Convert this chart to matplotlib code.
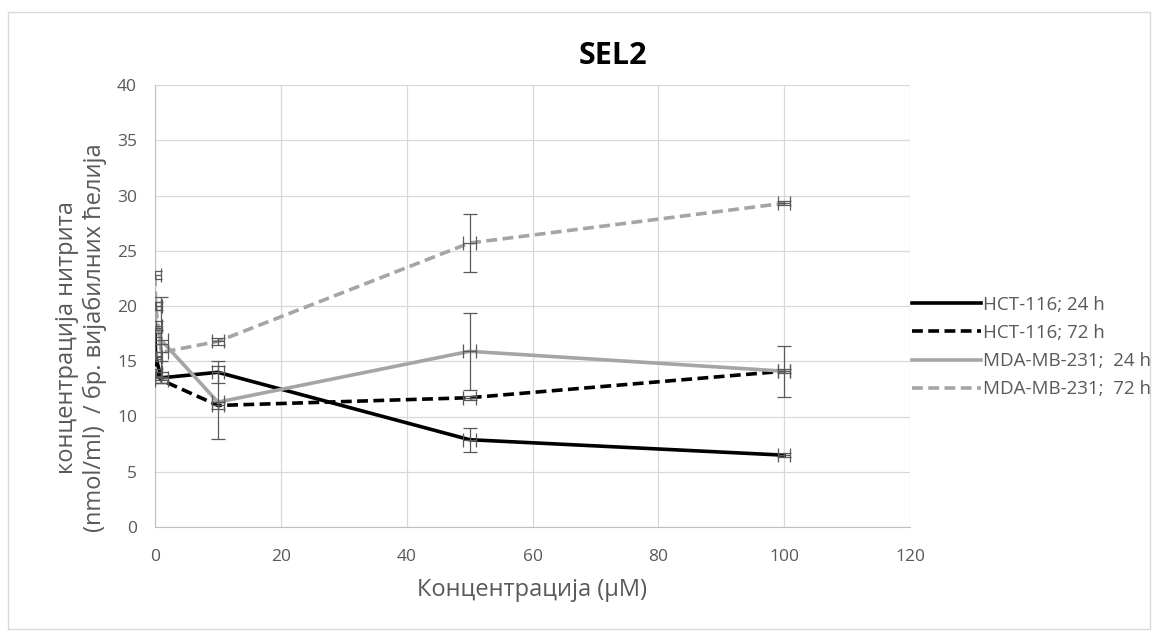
import numpy as np
import matplotlib.pyplot as plt
from matplotlib.patches import Rectangle

plt.rcParams['font.family'] = ['Open Sans', 'DejaVu Sans']

# concentrations (uM)
conc = [0, 0.1, 1, 10, 50, 100]

hct_24 = [17.6, 15.4, 13.5, 14.0, 7.9, 6.5]
hct_24_err = [0.4, 0.4, 0.5, 1.0, 1.1, 0.2]
hct_72 = [15.5, 14.0, 13.3, 11.0, 11.7, 14.1]
hct_72_err = [0.3, 0.3, 0.3, 0.3, 0.2, 0.2]
mda_24 = [20.0, 18.2, 16.9, 11.3, 15.9, 14.1]
mda_24_err = [0.4, 0.4, 3.9, 3.3, 3.5, 2.3]
mda_72 = [22.8, 20.0, 15.8, 16.8, 25.7, 29.3]
mda_72_err = [0.4, 0.4, 0.8, 0.3, 2.6, 0.2]
x_err = 1.0

labels = ['HCT-116; 24 h', 'HCT-116; 72 h', 'MDA-MB-231;  24 h', 'MDA-MB-231;  72 h']

fig = plt.figure(figsize=(11.58, 6.32), dpi=100)
ax = fig.add_axes([155/1158, 1 - 527/632, (910-155)/1158, (527-85)/632])

series = [
    (hct_24, hct_24_err, 'black', '-'),
    (hct_72, hct_72_err, 'black', (0, (3, 1.5))),
    (mda_24, mda_24_err, '#a5a5a5', '-'),
    (mda_72, mda_72_err, '#a5a5a5', (0, (3, 1.5))),
]
handles = []
for (y, yerr, col, ls), lab in zip(series, labels):
    line, = ax.plot(conc, y, color=col, linestyle=ls, linewidth=2.6, label=lab, zorder=3)
    ax.errorbar(conc, y, yerr=yerr, xerr=x_err, fmt='none', ecolor='#595959',
                elinewidth=0.9, capsize=5, capthick=0.9, zorder=4)
    handles.append(line)

ax.set_xlim(0, 120)
ax.set_ylim(0, 40)
ax.set_xticks(np.arange(0, 121, 20))
ax.set_yticks(np.arange(0, 41, 5))
ax.grid(True, color='#d9d9d9', linewidth=0.9)
ax.set_axisbelow(True)
for s in ['top', 'right']:
    ax.spines[s].set_visible(False)
for s in ['left', 'bottom']:
    ax.spines[s].set_color('#bfbfbf')
ax.tick_params(length=0, labelsize=12.5, labelcolor='#595959')
ax.tick_params(axis='x', pad=16)
ax.tick_params(axis='y', pad=13)

# title and axis titles
fig.text(613/1158, 1 - 56/632, 'SEL2', ha='center', va='center', fontsize=22,
         fontweight='bold')
fig.text(532/1158, 1 - 590/632, 'Концентрација (µM)', ha='center', va='center',
         fontsize=17, color='#595959')
fig.text(81/1158, 1 - 338/632, 'концентрација нитрита\n(nmol/ml)  / бр. вијабилних ћелија',
         ha='center', va='center', rotation=90, fontsize=17, color='#595959',
         linespacing=1.15, multialignment='center')

fig.legend(handles=handles, loc='center left', bbox_to_anchor=(912/1158, 1 - 347/632),
           frameon=False, fontsize=13.5, labelcolor='#595959', handlelength=3.7,
           handletextpad=0.1, labelspacing=0.55, borderaxespad=0, borderpad=0)

fig.patches.append(Rectangle((8/1158, 0.005), 1 - 16/1158, 1 - 12/632 - 0.005,
                             transform=fig.transFigure, fill=False,
                             edgecolor='#d9d9d9', linewidth=1))

fig.savefig('out.png', dpi=100)
